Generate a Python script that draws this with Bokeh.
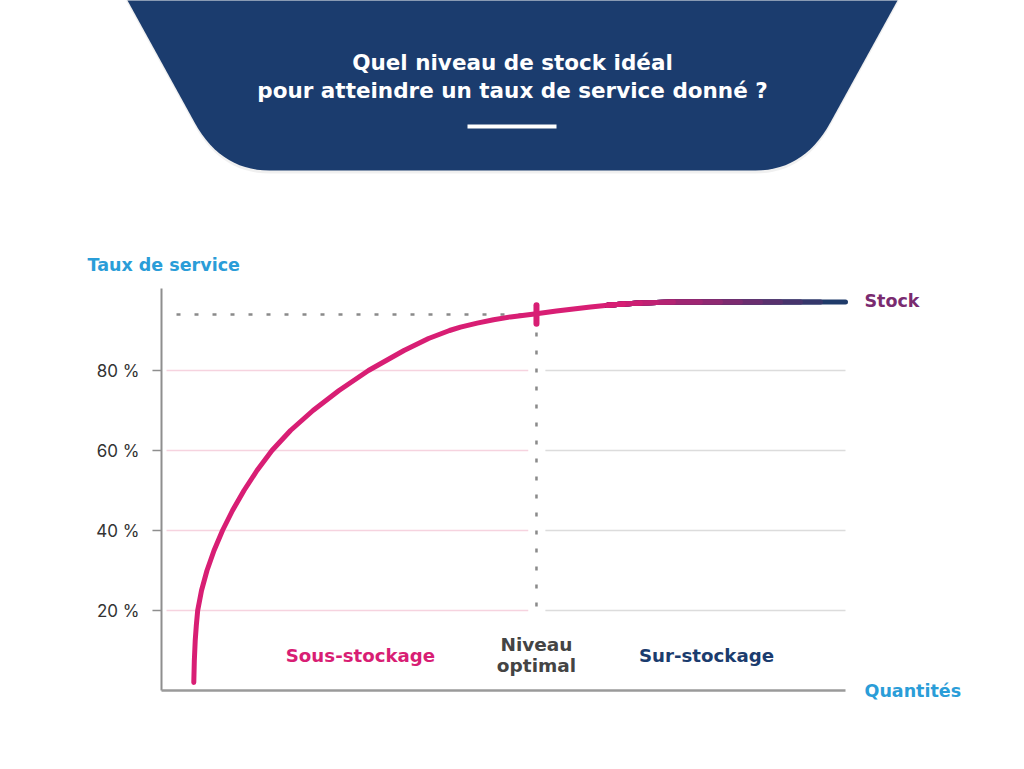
import numpy as np
from bokeh.plotting import figure
from bokeh.models import Range1d
from bokeh.core.properties import value
from bokeh.embed import file_html
from bokeh.resources import INLINE

# ---------------- data ----------------
quantity = [4.72, 4.80, 4.93, 5.09, 5.29, 5.85, 6.65, 7.68, 8.92, 10.38, 12.06,
            13.96, 16.15, 18.86, 22.15, 25.95, 30.26, 35.45, 39.04, 42.11, 43.71,
            46.15, 48.54, 51.02, 54.82, 57.75, 60.23, 62.72, 65.20, 67.54, 70.03,
            72.37, 74.85, 78.80, 81.73, 84.65, 87.57, 90.50, 93.42, 96.35, 100.0]
service_rate = [2.0, 7.5, 12.5, 16.25, 20.0, 25.0, 30.0, 35.0, 40.0, 45.0, 50.0,
                55.0, 60.0, 65.0, 70.0, 75.0, 80.0, 85.0, 88.0, 90.0, 90.85,
                91.85, 92.7, 93.4, 94.2, 94.85, 95.35, 95.85, 96.3, 96.65, 96.9,
                97.03, 97.1, 97.12, 97.12, 97.12, 97.12, 97.12, 97.12, 97.12, 97.12]
y_ticks = [20, 40, 60, 80]
y_tick_labels = ["20 %", "40 %", "60 %", "80 %"]
optimal_x = 54.82
optimal_y = 94.0
x_max = 100.0
y_axis_top = 100.5
zone_labels = ["Sous-stockage", "Sur-stockage"]
zone_x = [29.09, 79.68]
title_lines = ["Quel niveau de stock idéal", "pour atteindre un taux de service donné ?"]

FONT = "DejaVu Sans"
PINK = "#d81e74"
NAVY = "#1b3c6e"
BLUE = "#2a9dd8"

W, H = 1016, 761

# pixel helpers for decoration only (page px -> data)
def qx(px):
    return (px - 161) / 6.84

def qy(py):
    return (690 - py) / 4.0

p = figure(width=W, height=H,
           x_range=Range1d(qx(0), qx(W)),
           y_range=Range1d(qy(H), qy(0)),
           x_axis_type=None, y_axis_type=None,
           toolbar_location=None, output_backend="svg",
           min_border=0, outline_line_color=None)
p.background_fill_color = "white"
p.border_fill_color = "white"

# ---------------- banner ----------------
def quad_bez(p0, c, p1, n=16):
    t = np.linspace(0, 1, n)
    xs = (1 - t) ** 2 * p0[0] + 2 * (1 - t) * t * c[0] + t ** 2 * p1[0]
    ys = (1 - t) ** 2 * p0[1] + 2 * (1 - t) * t * c[1] + t ** 2 * p1[1]
    return list(xs), list(ys)

slope = 0.55
bx, by = [127 - 8 * slope], [-8]
cx, cy = quad_bez((220.5 - slope * 48, 122), (220.5, 170), (269, 170))
bx += cx; by += cy
cx, cy = quad_bez((755, 170), (803.5, 170), (803.5 + slope * 48, 122))
bx += cx; by += cy
bx += [897 + 8 * slope]; by += [-8]
# soft shadow
p.patch([qx(v) for v in bx], [qy(v + 3) for v in by], fill_color="#000000",
        fill_alpha=0.06, line_color=None)
p.patch([qx(v) for v in bx], [qy(v) for v in by], fill_color=NAVY, line_color=None)

p.text(x=[qx(512)] * 2, y=[qy(62), qy(90)], text=title_lines,
       text_font=value(FONT), text_font_style="bold", text_font_size="21.5px",
       text_color="white", text_align="center", text_baseline="middle")
p.quad(left=[qx(467)], right=[qx(556)], bottom=[qy(128)], top=[qy(124)],
       fill_color="white", line_color=None)

# ---------------- grid lines ----------------
p.segment(x0=[qx(166)] * 4, x1=[optimal_x - 1.2] * 4, y0=y_ticks, y1=y_ticks,
          line_color="#f6d3df", line_width=1.5)
p.segment(x0=[optimal_x + 1.3] * 4, x1=[x_max] * 4, y0=y_ticks, y1=y_ticks,
          line_color="#dcdcdc", line_width=1.5)

# ---------------- axes ----------------
p.segment(x0=[0], x1=[0], y0=[0], y1=[y_axis_top], line_color="#8e8e8e", line_width=2)
p.segment(x0=[0], x1=[x_max], y0=[0], y1=[0], line_color="#9a9a9a", line_width=2.5)
p.segment(x0=[-1.32] * 4, x1=[0] * 4, y0=y_ticks, y1=y_ticks,
          line_color="#8e8e8e", line_width=1.5)
p.text(x=[qx(139)] * 4, y=y_ticks, text=y_tick_labels, text_font=value("Inter"),
       text_font_size="17px", text_color="#333333", text_align="right",
       text_baseline="middle")

# ---------------- dotted guides ----------------
p.line([qx(176), optimal_x], [optimal_y, optimal_y], line_color="#8a8a8a",
       line_width=2.5, line_dash="4 14")
p.line([optimal_x, optimal_x], [optimal_y, 20], line_color="#8a8a8a",
       line_width=2.5, line_dash="4 14")

# ---------------- curve with gradient ----------------
xs = np.array(quantity)
ys = np.array(service_rate)
px_pts = 161 + 6.84 * xs
k = int(np.argmax(px_pts >= 606))
p.line(xs[:k + 1], ys[:k + 1], line_color=PINK, line_width=5,
       line_join="round", line_cap="round")
gx, gy = xs[k:], ys[k:]
end_px = 161 + 6.84 * gx[1:]
t = np.clip((end_px - 625) / (845 - 625), 0, 1)
stops = [0, 0.4, 1]
r = np.interp(t, stops, [216, 150, 31])
g = np.interp(t, stops, [30, 40, 59])
b = np.interp(t, stops, [116, 114, 106])
colors = ["#%02x%02x%02x" % (int(a), int(c), int(d)) for a, c, d in zip(r, g, b)]
n = len(gx)
order = list(range(n - 1, 0, -1))  # longest first, each shorter one drawn on top
p.multi_line(xs=[list(gx[:i + 1]) for i in order], ys=[list(gy[:i + 1]) for i in order],
             line_color=[colors[i - 1] for i in order], line_width=5,
             line_cap="round", line_join="round")

# optimal marker
p.segment(x0=[optimal_x], x1=[optimal_x], y0=[optimal_y - 2.3], y1=[optimal_y + 2.3],
          line_color=PINK, line_width=6, line_cap="round")

# ---------------- labels ----------------
p.text(x=[qx(87)], y=[qy(264)], text=["Taux de service"], text_font=value(FONT),
       text_font_style="bold", text_font_size="17.5px", text_color=BLUE,
       text_baseline="middle")
p.text(x=[qx(864)], y=[qy(690)], text=["Quantités"], text_font=value(FONT),
       text_font_style="bold", text_font_size="17.5px", text_color=BLUE,
       text_baseline="middle")
p.text(x=[qx(864)], y=[qy(300)], text=["Stock"], text_font=value(FONT),
       text_font_style="bold", text_font_size="17.5px", text_color="#7a2b70",
       text_baseline="middle")
p.text(x=zone_x, y=[qy(655)] * 2, text=zone_labels, text_font=value(FONT),
       text_font_style="bold", text_font_size="18.2px", text_color=[PINK, NAVY],
       text_align="center", text_baseline="middle")
p.text(x=[optimal_x] * 2, y=[qy(644), qy(665)], text=["Niveau", "optimal"],
       text_font=value(FONT), text_font_style="bold", text_font_size="18.5px",
       text_color="#444444", text_align="center", text_baseline="middle")

open("out.html", "w").write(file_html(p, INLINE))
